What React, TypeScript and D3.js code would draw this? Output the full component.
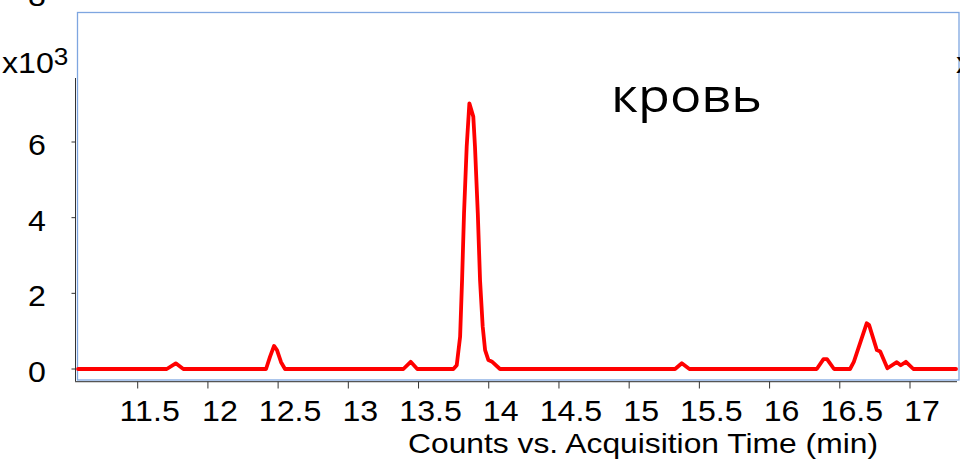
import React from "react";
import * as d3 from "d3";

// Acquisition time (min)
const times: number[] = [
  11.075, 11.707, 11.771, 11.825, 12.414, 12.442, 12.471, 12.492, 12.521, 12.549,
  13.392, 13.444, 13.491, 13.748, 13.772, 13.796, 13.81, 13.824, 13.843, 13.862,
  13.89, 13.902, 13.922, 13.938, 13.957, 13.974, 13.997, 14.021, 14.08, 15.327,
  15.375, 15.429, 16.336, 16.384, 16.409, 16.459, 16.573, 16.6, 16.692, 16.709,
  16.764, 16.788, 16.839, 16.906, 16.934, 16.971, 17.024, 17.328,
];
// Counts (x10^3)
const counts: number[] = [
  0, 0, 0.15, 0, 0, 0.32, 0.61, 0.5, 0.18, 0,
  0, 0.19, 0, 0, 0.1, 0.85, 2.35, 4.12, 5.88, 7.02,
  6.67, 5.88, 4.12, 2.35, 1.12, 0.5, 0.24, 0.2, 0, 0,
  0.15, 0, 0, 0.26, 0.26, 0, 0, 0.19, 1.21, 1.16,
  0.5, 0.46, 0.02, 0.18, 0.1, 0.19, 0, 0,
];
const xTicks: number[] = [11.5, 12, 12.5, 13, 13.5, 14, 14.5, 15, 15.5, 16, 16.5, 17];
const xTickLabels: string[] = ["11.5", "12", "12.5", "13", "13.5", "14", "14.5", "15", "15.5", "16", "16.5", "17"];
const yTicks: number[] = [0, 2, 4, 6];
const title = "кровь";
const xTitle = "Counts vs. Acquisition Time (min)";

export default function App() {
  const W = 960, H = 469;
  const x = d3.scaleLinear().domain([11.5, 17]).range([137.7, 910]);
  const y = d3.scaleLinear().domain([0, 6]).range([369, 142]);
  const data = times.map((t, i) => [t, counts[i]] as [number, number]);
  const line = d3.line<[number, number]>().x(d => x(d[0])).y(d => y(d[1]));
  const font = "'Liberation Sans', Arial, sans-serif";
  const sx = 1.09;
  return (
    <svg width={W} height={H} style={{ position: "absolute", left: 0, top: 0, background: "#fff" }}>
      <rect x={0} y={0} width={W} height={H} fill="#fff" />
      {/* plot frame */}
      <rect x={77.5} y={12.5} width={881.5} height={367.5} fill="none" stroke="#7ea6e0" strokeWidth={1.3} />
      {/* y axis */}
      <line x1={75.5} x2={75.5} y1={78} y2={382} stroke="#333" strokeWidth={1} />
      {yTicks.map(v => (
        <g key={v}>
          <line x1={71.5} x2={75.5} y1={y(v)} y2={y(v)} stroke="#333" />
          <g transform={`translate(46,${y(v) + 13}) scale(${sx},1)`}>
            <text x={0} y={0} textAnchor="end" fontFamily={font} fontSize={29.5} fill="#000">{v}</text>
          </g>
        </g>
      ))}
      <g transform={`translate(46,6) scale(${sx},1)`}>
        <text x={0} y={0} textAnchor="end" fontFamily={font} fontSize={29.5} fill="#000">8</text>
      </g>
      <g transform={`translate(2,73) scale(${sx},1)`}>
        <text x={0} y={0} fontFamily={font} fontSize={29.5} fill="#000">
          x10<tspan fontSize={24} dy={-8}>3</tspan>
        </text>
      </g>
      <g transform={`translate(956,73) scale(${sx},1)`}>
        <text x={0} y={0} fontFamily={font} fontSize={29.5} fill="#000">x10</text>
      </g>
      {/* x axis */}
      <line x1={75} x2={957} y1={381.7} y2={381.7} stroke="#555" strokeWidth={1.2} />
      {xTicks.map((t, i) => (
        <g key={t}>
          <line x1={x(t)} x2={x(t)} y1={381.7} y2={388.5} stroke="#333" />
          <g transform={`translate(${x(t) + 12},420.5) scale(${sx},1)`}>
            <text x={0} y={0} textAnchor="middle" fontFamily={font} fontSize={29.5} fill="#000">{xTickLabels[i]}</text>
          </g>
        </g>
      ))}
      <text x={408} y={453} fontFamily={font} fontSize={28.5} textLength={470} lengthAdjust="spacingAndGlyphs" fill="#000">{xTitle}</text>
      {/* trace */}
      <path d={line(data) || ""} fill="none" stroke="#ff0000" strokeWidth={3.8} strokeLinejoin="round" strokeLinecap="round" />
      {/* title */}
      <text x={611} y={112} fontFamily="'Open Sans', 'Noto Sans', sans-serif" fontSize={45} textLength={151} lengthAdjust="spacingAndGlyphs" fill="#000">{title}</text>
    </svg>
  );
}
